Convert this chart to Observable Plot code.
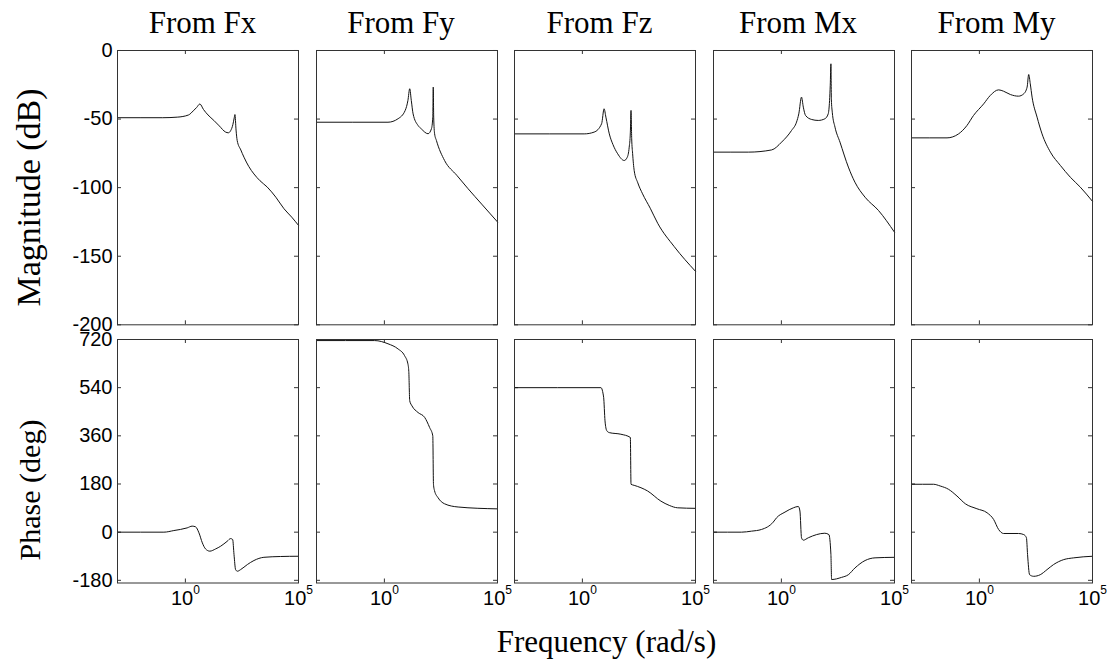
<!DOCTYPE html>
<html>
<head>
<meta charset="utf-8">
<script src="https://cdn.jsdelivr.net/npm/d3@7"></script>
<script src="https://cdn.jsdelivr.net/npm/@observablehq/plot@0.6"></script>
<style>
  html, body { margin: 0; padding: 0; background: #fff; }
  #chart { position: relative; width: 1110px; height: 661px; background: #fff; overflow: hidden; }
</style>
</head>
<body>
<div id="chart"></div>
<script>
// ---------------- data ----------------
const inputs = ["Fx", "Fy", "Fz", "Mx", "My"];
const magTicks = [0, -50, -100, -150, -200];
const phaseTicks = [720, 540, 360, 180, 0, -180];
const freqTicks = [1, 1e5];
const freqTickLabels = ["10^0", "10^5"];

// log10 of frequency (rad/s) and magnitude (dB)
const magLogW_Fx = [-3, -1, -0.36, 0.14, 0.35, 0.5, 0.64, 0.8, 1.0, 1.26, 1.5, 1.78, 1.9, 2.0, 2.1, 2.16, 2.19, 2.24, 2.29, 2.45, 2.59, 2.8, 3.03, 3.3, 3.62, 4.0, 4.36, 4.7, 5.0];
const magDb_Fx   = [-49, -49, -48.6, -47, -44, -41.5, -39, -43, -47, -51, -55, -59.5, -60, -58.5, -54, -49, -46.7, -58, -65.6, -72.5, -77.8, -84.5, -90, -95, -99.6, -107, -115.4, -121.5, -127.5];

const magLogW_Fy = [-3, 0.16, 0.6, 0.92, 1.04, 1.12, 1.19, 1.27, 1.49, 1.63, 1.93, 2.08, 2.14, 2.16, 2.18, 2.22, 2.3, 2.66, 3.2, 3.7, 4.3, 5.0];
const magDb_Fy   = [-52.3, -52.3, -49.8, -43.7, -36.5, -27.9, -36.5, -46.2, -54.7, -57.1, -60.7, -57.1, -48.6, -26.7, -48.6, -60.7, -65.6, -80.2, -91, -100.8, -112, -125];

const magLogW_Fz = [-3, 0.08, 0.52, 0.85, 0.96, 1.04, 1.19, 1.35, 1.56, 1.85, 1.98, 2.07, 2.12, 2.15, 2.18, 2.22, 2.29, 2.45, 2.66, 3.0, 3.33, 4.06, 5.0];
const magDb_Fz   = [-60.8, -60.8, -59.5, -53.4, -42.5, -48.6, -60.8, -68.5, -75.3, -80.2, -78, -70.5, -60, -43.7, -64.4, -75, -87.5, -96.5, -104.5, -115, -126, -143, -161];

const magLogW_Mx = [-3, -1.46, -0.43, 0.01, 0.45, 0.67, 0.77, 0.89, 0.97, 1.07, 1.34, 1.63, 1.92, 2.07, 2.13, 2.16, 2.19, 2.21, 2.25, 2.37, 2.59, 2.96, 3.25, 3.70, 4.29, 5.0];
const magDb_Mx   = [-74.1, -74.1, -72.5, -66.8, -58.3, -52.2, -46.2, -34, -41.3, -47.4, -50.3, -51, -49.8, -46.2, -36.5, -25.5, -9.7, -36, -45, -55.9, -66.8, -85, -96, -107, -116.6, -132.5];

const magLogW_My = [-3, -1.43, -0.92, -0.55, -0.26, 0.19, 0.48, 0.85, 1.07, 1.37, 1.73, 1.96, 2.11, 2.18, 2.25, 2.33, 2.55, 2.77, 3.14, 3.58, 4.02, 4.46, 5.0];
const magDb_My   = [-63.7, -63.7, -60.8, -54.7, -47.4, -38.9, -32.8, -28.7, -29.7, -32.1, -33.3, -31.6, -26.7, -17.5, -24.3, -34, -48.6, -60.8, -74.1, -83.8, -92.4, -99.6, -110];

// log10 of frequency (rad/s) and phase (deg)
const phaseLogW_Fx = [-3, -0.95, -0.51, 0.08, 0.30, 0.45, 0.60, 0.75, 0.89, 1.08, 1.34, 1.56, 1.85, 2.0, 2.09, 2.15, 2.22, 2.30, 2.44, 2.74, 3.03, 3.47, 4.2, 5.0];
const phaseDeg_Fx  = [0, 0, 6, 16, 22.5, 20, -2.5, -40, -62.5, -71, -62.5, -52.5, -34, -24, -27.5, -84, -140, -146, -140, -121, -106, -94, -91, -90];

const phaseLogW_Fy = [-3, -0.43, 0.16, 0.6, 0.89, 1.04, 1.08, 1.12, 1.22, 1.49, 1.78, 2.0, 2.14, 2.17, 2.22, 2.37, 2.66, 3.26, 5.0];
const phaseDeg_Fy  = [716, 716, 704, 685, 660, 629, 600, 491, 472, 447, 429, 391, 360, 179, 154, 129, 106, 94, 87];

const phaseLogW_Fz = [-3, 0.82, 0.94, 1.0, 1.08, 1.19, 1.70, 2.12, 2.15, 2.29, 2.59, 2.88, 3.47, 3.84, 4.21, 5.0];
const phaseDeg_Fz  = [540, 540, 504, 416, 379, 372, 366, 354, 179, 175, 166, 154, 116, 100, 91, 89];

const phaseLogW_Mx = [-3, -1.76, -1.32, -0.88, -0.36, -0.21, 0.16, 0.53, 0.75, 0.82, 0.89, 0.97, 1.19, 1.56, 1.92, 2.10, 2.19, 2.22, 2.66, 2.96, 3.25, 3.70, 4.14, 5.0];
const phaseDeg_Mx  = [0, 0, 3.75, 10, 37.5, 54, 75, 91, 96, 79, -21, -30, -21, -9, -4, -9, -84, -177, -169, -159, -134, -106, -96, -94];

const phaseLogW_My = [-3, -2.03, -1.73, -1.36, -0.99, -0.62, -0.11, 0.34, 0.63, 0.85, 1.07, 1.73, 1.96, 2.08, 2.13, 2.22, 2.40, 2.69, 2.99, 3.28, 3.73, 4.17, 5.0];
const phaseDeg_My  = [179, 179, 172.5, 160, 135, 106, 87.5, 72.5, 47.5, 10, -5, -5, -9, -21, -84, -159, -165, -159, -140, -121, -102.5, -96, -90];

const magSeries = {
  Fx: [magLogW_Fx, magDb_Fx], Fy: [magLogW_Fy, magDb_Fy], Fz: [magLogW_Fz, magDb_Fz],
  Mx: [magLogW_Mx, magDb_Mx], My: [magLogW_My, magDb_My]
};
const phaseSeries = {
  Fx: [phaseLogW_Fx, phaseDeg_Fx], Fy: [phaseLogW_Fy, phaseDeg_Fy], Fz: [phaseLogW_Fz, phaseDeg_Fz],
  Mx: [phaseLogW_Mx, phaseDeg_Mx], My: [phaseLogW_My, phaseDeg_My]
};
const toRows = ([lw, v]) => lw.map((e, i) => ({w: 10 ** e, v: v[i]}));

// ---------------- layout ----------------
const chart = document.getElementById("chart");
const svgNS = "http://www.w3.org/2000/svg";
const axisColor = "#333";
const sansFont = "'Liberation Sans', Arial, Helvetica, sans-serif";
const serifFont = "'Liberation Serif', 'Times New Roman', serif";
const firstLeft = 117, colStep = 198.5, panelW = 181;
const rows = [
  {top: 50, h: 274.3, domain: [-200, 0], ticks: magTicks, series: magSeries, showX: false},
  {top: 338.5, h: 243.5, domain: [-190, 720], ticks: phaseTicks, series: phaseSeries, showX: true}
];
const tickLen = 4;

function superscripts(svg) {
  svg.querySelectorAll("text").forEach(t => {
    const m = /^10\^(-?\d+)$/.exec(t.textContent);
    if (!m) return;
    t.textContent = "10";
    const ts = document.createElementNS(svgNS, "tspan");
    ts.setAttribute("dy", "-11");
    ts.setAttribute("font-size", "12");
    ts.textContent = m[1];
    t.appendChild(ts);
  });
}

rows.forEach((row, r) => {
  inputs.forEach((inp, c) => {
    const left = firstLeft + c * colStep;
    const w = panelW, h = row.h;
    const marks = [
      Plot.tickY(row.ticks, {y: d => d, insetRight: w - tickLen, stroke: axisColor}),
      Plot.tickY(row.ticks, {y: d => d, insetLeft: w - tickLen, stroke: axisColor}),
      Plot.tickX(freqTicks, {x: d => d, insetBottom: h - tickLen, stroke: axisColor}),
      Plot.tickX(freqTicks, {x: d => d, insetTop: h - tickLen, stroke: axisColor}),
      Plot.line(toRows(row.series[inp]), {x: "w", y: "v", curve: "monotone-x", stroke: "#111", strokeWidth: 1}),
      Plot.frame({stroke: axisColor, strokeWidth: 1})
    ];
    if (c === 0) {
      marks.push(Plot.text(row.ticks, {
        y: d => d, text: d => String(d), frameAnchor: "left", textAnchor: "end",
        dx: -5, fontSize: 20, fontFamily: sansFont, fill: "#000"
      }));
    }
    if (row.showX) {
      marks.push(Plot.text(freqTicks, {
        x: d => d, text: (d, i) => freqTickLabels[i], frameAnchor: "bottom",
        dy: 22, fontSize: 20, fontFamily: sansFont, fill: "#000"
      }));
    }
    const svg = Plot.plot({
      width: w, height: h, margin: 0,
      x: {type: "log", domain: [1e-3, 1e5], axis: null},
      y: {domain: row.domain, axis: null},
      marks
    });
    superscripts(svg);
    svg.style.position = "absolute";
    svg.style.left = left + "px";
    svg.style.top = row.top + "px";
    svg.style.overflow = "visible";
    svg.style.background = "none";
    svg.style.maxWidth = "none";
    chart.appendChild(svg);
  });
});

// ---------------- titles & axis labels ----------------
const overlay = d3.create("svg")
  .attr("width", 1110).attr("height", 661)
  .style("position", "absolute").style("left", "0px").style("top", "0px")
  .style("pointer-events", "none");

inputs.forEach((inp, c) => {
  overlay.append("text")
    .attr("x", firstLeft + c * colStep + panelW / 2 - 5)
    .attr("y", 33)
    .attr("text-anchor", "middle")
    .attr("font-family", serifFont)
    .attr("font-size", 31)
    .attr("fill", "#000")
    .text("From " + inp);
});

overlay.append("text")
  .attr("transform", "translate(40,197.5) rotate(-90)")
  .attr("text-anchor", "middle")
  .attr("font-family", serifFont).attr("font-size", 34).attr("fill", "#000")
  .text("Magnitude (dB)");

overlay.append("text")
  .attr("transform", "translate(40,490) rotate(-90)")
  .attr("text-anchor", "middle")
  .attr("font-family", serifFont).attr("font-size", 30).attr("fill", "#000")
  .text("Phase (deg)");

overlay.append("text")
  .attr("x", 606.5).attr("y", 651.7)
  .attr("text-anchor", "middle")
  .attr("font-family", serifFont).attr("font-size", 31).attr("fill", "#000")
  .text("Frequency (rad/s)");

chart.appendChild(overlay.node());
</script>
</body>
</html>
